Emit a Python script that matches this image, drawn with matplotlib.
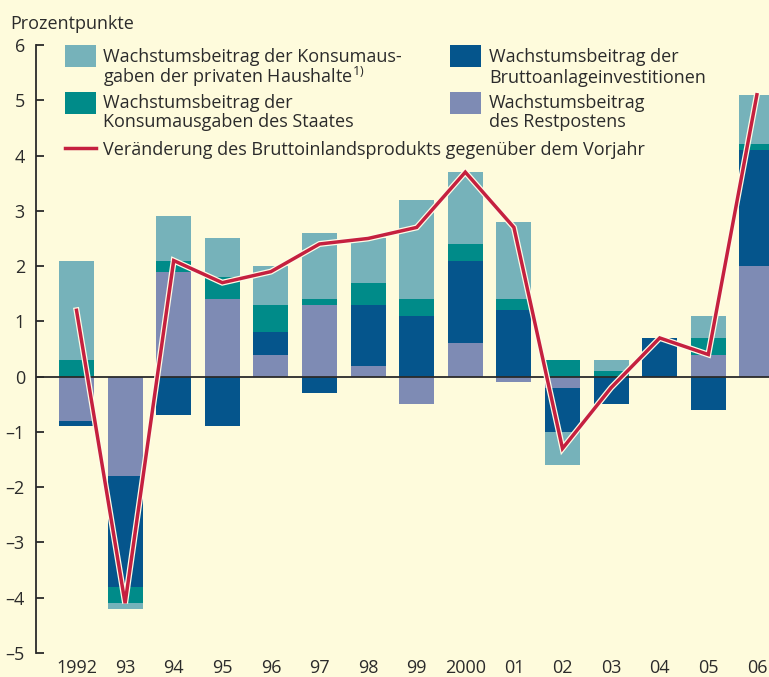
import matplotlib
matplotlib.use("Agg")
import matplotlib.pyplot as plt
import matplotlib.patheffects as pe
from matplotlib.patches import Rectangle
from matplotlib.lines import Line2D
from matplotlib.ticker import FuncFormatter
import numpy as np

# ---- data ----
years = ["1992", "93", "94", "95", "96", "97", "98", "99", "2000", "01", "02", "03", "04", "05", "06"]
konsum_privat = [1.8, -0.1, 0.8, 0.7, 0.7, 1.2, 0.8, 1.8, 1.3, 1.4, -0.6, 0.2, 0.0, 0.4, 0.9]
konsum_staat = [0.3, -0.3, 0.2, 0.4, 0.5, 0.1, 0.4, 0.3, 0.3, 0.2, 0.3, 0.1, 0.0, 0.3, 0.1]
brutto = [-0.1, -2.0, -0.7, -0.9, 0.4, -0.3, 1.1, 1.1, 1.5, 1.2, -0.8, -0.5, 0.7, -0.6, 2.1]
rest = [-0.8, -1.8, 1.9, 1.4, 0.4, 1.3, 0.2, -0.5, 0.6, -0.1, -0.2, 0.0, 0.0, 0.4, 2.0]
bip = [1.2, -4.1, 2.1, 1.7, 1.9, 2.4, 2.5, 2.7, 3.7, 2.7, -1.3, -0.2, 0.7, 0.4, 5.1]

BG = "#fefbdc"
C_PRIV = "#76b2ba"
C_STAAT = "#008b89"
C_BRUTTO = "#05558c"
C_REST = "#7e8bb4"
C_LINE = "#c5203f"
TXT = "#2b2b2b"
FS = 13

plt.rcParams["font.family"] = ["Open Sans", "DejaVu Sans"]
plt.rcParams["mathtext.fontset"] = "custom"
plt.rcParams["mathtext.rm"] = "Open Sans"

W, H = 769, 677
fig = plt.figure(figsize=(W / 100, H / 100), dpi=100, facecolor=BG)

def fx(px):
    return px / W

def fy(py):
    return 1 - py / H

ax_left, ax_top, ax_bottom = 36, 45, 653
ax = fig.add_axes([fx(ax_left), fy(ax_bottom), 1 - fx(ax_left), (ax_bottom - ax_top) / H])
ax.set_facecolor(BG)

x = np.arange(len(years))
spacing = 48.6
x_left = -(76.5 - ax_left) / spacing
x_right = x_left + (W - ax_left) / spacing
ax.set_xlim(x_left, x_right)
ax.set_ylim(-5, 6)

width = 0.72
pos_bottom = np.zeros(len(years))
neg_bottom = np.zeros(len(years))
for vals, col in [(rest, C_REST), (brutto, C_BRUTTO), (konsum_staat, C_STAAT), (konsum_privat, C_PRIV)]:
    v = np.array(vals)
    pos = np.where(v > 0, v, 0)
    neg = np.where(v < 0, v, 0)
    ax.bar(x, pos, width, bottom=pos_bottom, color=col, zorder=2, linewidth=0)
    ax.bar(x, neg, width, bottom=neg_bottom, color=col, zorder=2, linewidth=0)
    pos_bottom += pos
    neg_bottom += neg

ax.axhline(0, color="#2a2a2a", lw=1.3, zorder=3)

ax.plot(x, bip, color=C_LINE, lw=2.5, zorder=4, solid_joinstyle="miter",
        path_effects=[pe.Stroke(linewidth=4.3, foreground="#fffbe6"), pe.Normal()])

# axes styling
for s in ["top", "right", "bottom"]:
    ax.spines[s].set_visible(False)
ax.spines["left"].set_color("#2a2a2a")
ax.spines["left"].set_linewidth(1.3)
ax.set_yticks(range(-5, 7))
ax.yaxis.set_major_formatter(FuncFormatter(lambda v, p: f"{int(v)}".replace("-", "\u2013")))
ax.tick_params(axis="y", direction="in", length=6, width=1.3, color="#2a2a2a",
               labelsize=FS, labelcolor=TXT, pad=8)
ax.set_xticks(x)
ax.set_xticklabels(years)
ax.tick_params(axis="x", length=0, labelsize=FS, labelcolor=TXT, pad=4.5)

fig.text(fx(10), fy(29), "Prozentpunkte", fontsize=FS, color=TXT, va="baseline", ha="left")

# ---- legend (manual) ----
def patch(x0, y0, x1, y1, col):
    fig.patches.append(Rectangle((fx(x0), fy(y1)), fx(x1) - fx(x0), fy(y0) - fy(y1),
                                 transform=fig.transFigure, facecolor=col, edgecolor="none"))

def line_text(xp, yp, s):
    fig.text(fx(xp), fy(yp), s, fontsize=FS, color=TXT, va="baseline", ha="left")

patch(65, 45, 96, 67, C_PRIV)
patch(65, 92, 96, 114, C_STAAT)
patch(450, 45, 481, 67, C_BRUTTO)
patch(450, 92, 481, 114, C_REST)
fig.lines.append(Line2D([fx(65), fx(96)], [fy(148), fy(148)], transform=fig.transFigure,
                        color=C_LINE, lw=2.5))

line_text(103, 62, "Wachstumsbeitrag der Konsumaus-")
line_text(103, 83, r"gaben der privaten Haushalte$^{\mathregular{1)}}$")
line_text(103, 108, "Wachstumsbeitrag der")
line_text(103, 127, "Konsumausgaben des Staates")
line_text(103, 155, "Veränderung des Bruttoinlandsprodukts gegenüber dem Vorjahr")
line_text(489, 62, "Wachstumsbeitrag der")
line_text(489, 83, "Bruttoanlageinvestitionen")
line_text(489, 108, "Wachstumsbeitrag")
line_text(489, 127, "des Restpostens")

fig.savefig("out.png", dpi=100, facecolor=BG)
